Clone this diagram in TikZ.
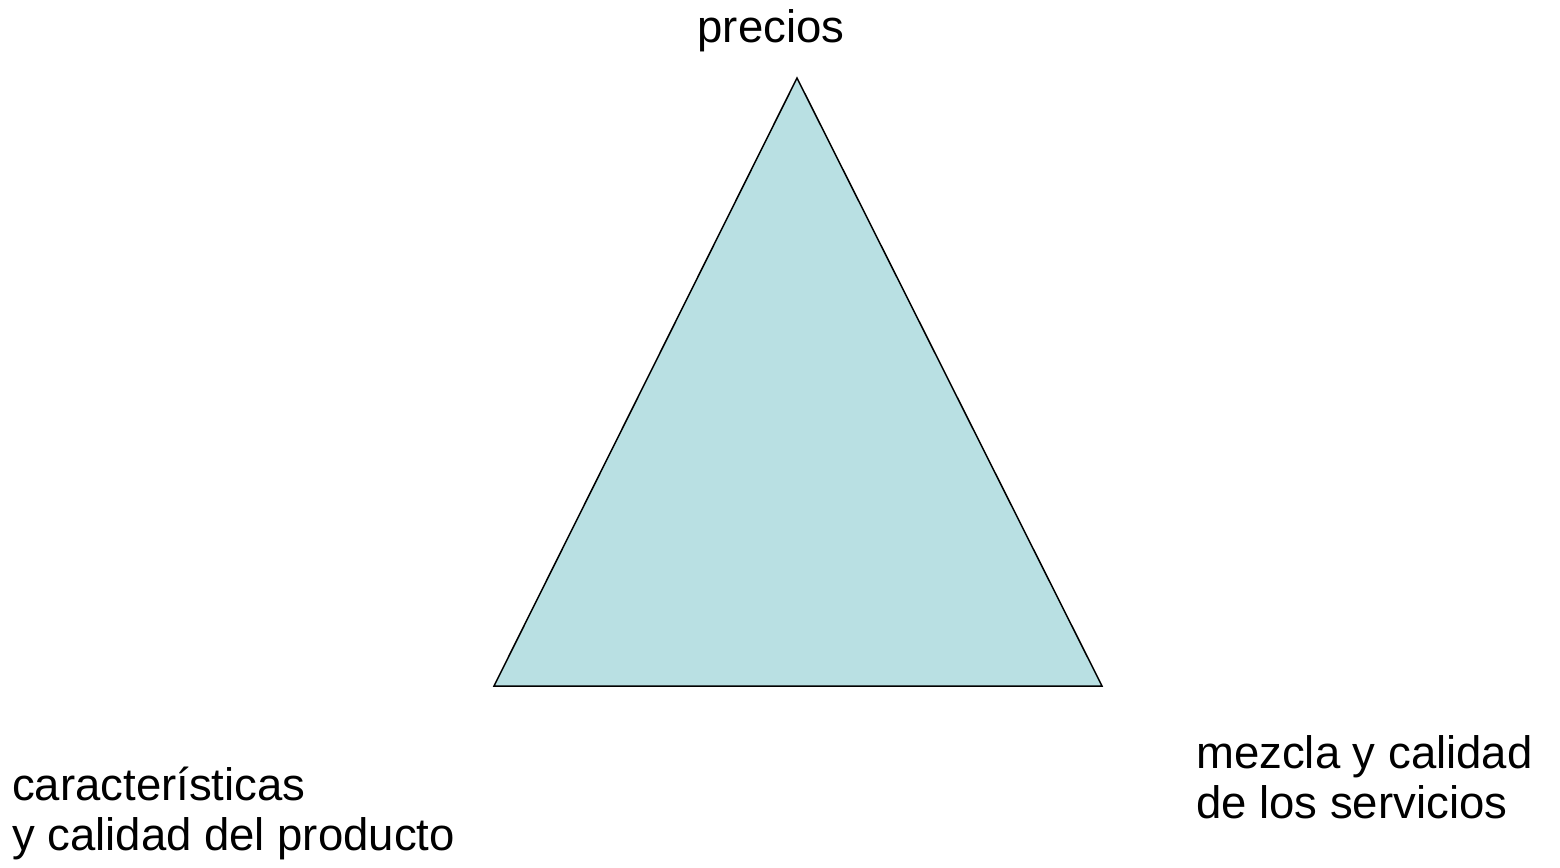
\documentclass[tikz,border=0pt]{standalone}
\usepackage{fontspec}
\setmainfont{Liberation Sans}
\definecolor{trifill}{RGB}{185,224,227}
\begin{document}
\begin{tikzpicture}[x=1pt,y=-1pt,
  lbl/.style={inner sep=0pt,align=left,font=\fontsize{45.5}{50}\selectfont},
  tri/.style={draw=black,line width=1.5pt,fill=trifill,line join=miter}]
\useasboundingbox (0,0) rectangle (1560,867);
\coordinate (top) at (797,78);
\coordinate (bl) at (494,686);
\coordinate (br) at (1102,686);
\filldraw[tri] (top) -- (bl) -- (br) -- cycle;
\node[lbl,anchor=base] (precios) at (771,43) {precios};
\node[lbl,anchor=base west] (prod) at (12,850) {características\\y calidad del producto};
\node[lbl,anchor=base west] (serv) at (1196,818) {mezcla y calidad\\de los servicios};
\end{tikzpicture}
\end{document}
